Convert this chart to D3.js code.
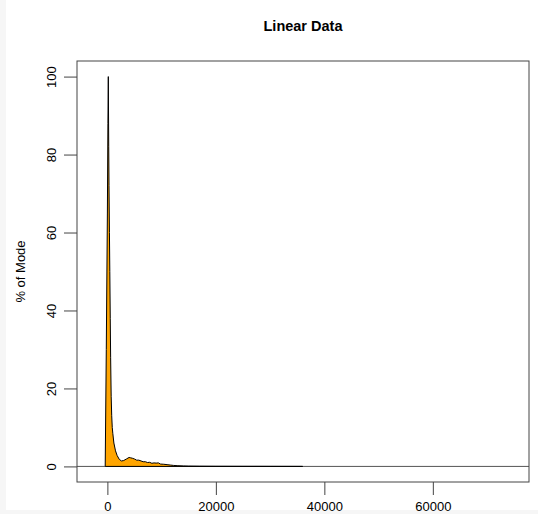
<!DOCTYPE html>
<html>
<head>
<meta charset="utf-8">
<script src="https://cdn.jsdelivr.net/npm/d3@7"></script>
<style>
  body { margin: 0; background: #f6f6f6; }
  svg { display: block; }
  text { font-family: "Liberation Sans", Arial, sans-serif; fill: #000; }
</style>
</head>
<body>
<svg id="chart"></svg>
<script>
let width = 538, height = 514;

// density trace (% of mode)
let xVals = [-400, -200, 0, 100, 170, 250, 300, 380, 450, 530, 600, 700, 800, 900, 1000,
  1200, 1500, 1800, 2200, 2600, 3000, 3500, 4000, 4300, 4600, 5000, 5400, 5800, 6200,
  6600, 7000, 7400, 7800, 8200, 8600, 9000, 9400, 9800, 10400, 11000, 11600, 12200,
  13000, 14000, 15000, 17000, 20000, 25000, 30000, 36000];
let yVals = [0, 30, 65, 88, 100, 82, 72, 60, 50, 38, 28, 18, 13, 10, 8.5,
  6, 4, 2.8, 1.8, 1.4, 1.5, 1.9, 2.3, 2.2, 2.1, 1.9, 1.6, 1.6, 1.4,
  1.2, 1.2, 1.0, 1.05, 0.8, 0.9, 0.85, 0.9, 0.6, 0.55, 0.45, 0.35, 0.25,
  0.18, 0.12, 0.08, 0.05, 0.03, 0.02, 0.01, 0];
let xTicks = [0, 20000, 40000, 60000];
let yTicks = [0, 20, 40, 60, 80, 100];

let svg = d3.select("#chart")
  .attr("width", width)
  .attr("height", height);

// light frame like the screenshot
svg.append("rect").attr("width", width).attr("height", height).attr("fill", "#f6f6f6");
svg.append("rect").attr("x", 6).attr("y", 0).attr("width", width - 6).attr("height", 510).attr("fill", "#fff");

let box = {left: 77, right: 529, top: 61, bottom: 482};

let x = d3.scaleLinear().domain([-5600, 77730]).range([box.left, box.right]);
let y = d3.scaleLinear().domain([-4, 104]).range([box.bottom, box.top]);

let pts = xVals.map((v, i) => [v, yVals[i]]);

let line = d3.line()
  .x(d => x(d[0]))
  .y(d => y(d[1]));

// baseline at 0
svg.append("line")
  .attr("x1", box.left).attr("x2", box.right)
  .attr("y1", y(0)).attr("y2", y(0))
  .attr("stroke", "#555").attr("stroke-width", 1);

svg.append("path")
  .datum(pts)
  .attr("d", d => line(d) + "Z")
  .attr("fill", "#FFA500")
  .attr("stroke", "#000")
  .attr("stroke-width", 1)
  .attr("stroke-linejoin", "round");

// box
svg.append("rect")
  .attr("x", box.left).attr("y", box.top)
  .attr("width", box.right - box.left).attr("height", box.bottom - box.top)
  .attr("fill", "none").attr("stroke", "#444").attr("stroke-width", 1);

// axes
let xAxis = svg.append("g")
  .attr("transform", "translate(0," + box.bottom + ")")
  .call(d3.axisBottom(x).tickValues(xTicks).tickFormat(d3.format("d")).tickSize(13).tickSizeOuter(0));
xAxis.select(".domain").remove();
xAxis.selectAll("line").attr("stroke", "#444");
xAxis.selectAll("text")
  .attr("y", 29).attr("dy", 0)
  .style("font-size", "13px");

let yAxis = svg.append("g")
  .attr("transform", "translate(" + box.left + ",0)")
  .call(d3.axisLeft(y).tickValues(yTicks).tickSize(13).tickSizeOuter(0));
yAxis.select(".domain").remove();
yAxis.selectAll("line").attr("stroke", "#444");
yAxis.selectAll("text")
  .attr("x", 0).attr("dy", 0)
  .attr("text-anchor", "middle")
  .attr("transform", "translate(-21,0) rotate(-90)")
  .style("font-size", "13px");

// title and label
svg.append("text")
  .attr("x", (box.left + box.right) / 2)
  .attr("y", 31)
  .attr("text-anchor", "middle")
  .style("font-size", "14.5px")
  .style("font-weight", "bold")
  .text("Linear Data");

svg.append("text")
  .attr("transform", "translate(25," + (box.top + box.bottom) / 2 + ") rotate(-90)")
  .attr("text-anchor", "middle")
  .style("font-size", "13px")
  .text("% of Mode");
</script>
</body>
</html>
